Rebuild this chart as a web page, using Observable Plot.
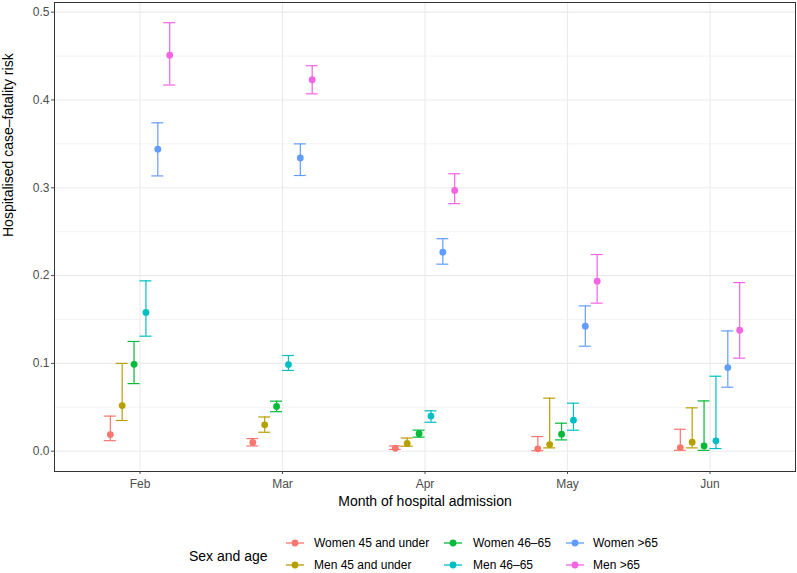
<!DOCTYPE html>
<html><head><meta charset="utf-8">
<script src="https://cdn.jsdelivr.net/npm/d3@7"></script>
<script src="https://cdn.jsdelivr.net/npm/@observablehq/plot@0.6"></script>
<style>
body{margin:0;background:#fff;font-family:"Liberation Sans",Arial,sans-serif;}
#wrap{position:relative;width:797px;height:573px;overflow:hidden;}
#chart{position:absolute;left:0;top:0;}
#legend{position:absolute;left:0;top:520px;width:797px;height:53px;}
.lt{position:absolute;font-size:14px;color:#000;line-height:14px;}
.li{position:absolute;font-size:12px;color:#000;line-height:12px;white-space:nowrap;}
.lk{position:absolute;}
</style></head><body>
<div id="wrap"><div id="chart"></div><div id="legend"></div></div>
<script>
const months = ["Feb", "Mar", "Apr", "May", "Jun"];
const groups = ["Women 45 and under", "Men 45 and under", "Women 46–65", "Men 46–65", "Women >65", "Men >65"];
const colors = ["#F8766D", "#B79F00", "#00BA38", "#00BFC4", "#619CFF", "#F564E3"];
const yTicks = [0, 0.1, 0.2, 0.3, 0.4, 0.5];
const yMinor = [0.05, 0.15, 0.25, 0.35, 0.45];

const estWomen45 = [0.019, 0.010, 0.0034, 0.0027, 0.0042];
const loWomen45  = [0.012, 0.006, 0.002, 0.0006, 0.001];
const hiWomen45  = [0.040, 0.0144, 0.006, 0.0167, 0.025];

const estMen45 = [0.052, 0.030, 0.0088, 0.0076, 0.0103];
const loMen45  = [0.035, 0.0216, 0.0057, 0.0038, 0.0038];
const hiMen45  = [0.100, 0.039, 0.015, 0.0604, 0.0494];

const estWomen4665 = [0.099, 0.051, 0.020, 0.0194, 0.006];
const loWomen4665  = [0.077, 0.045, 0.016, 0.0129, 0.001];
const hiWomen4665  = [0.125, 0.057, 0.024, 0.0319, 0.0573];

const estMen4665 = [0.158, 0.0987, 0.040, 0.0353, 0.0118];
const loMen4665  = [0.131, 0.092, 0.033, 0.0239, 0.003];
const hiMen4665  = [0.194, 0.109, 0.046, 0.0547, 0.0854];

const estWomen65 = [0.344, 0.334, 0.2266, 0.1424, 0.0953];
const loWomen65  = [0.3135, 0.314, 0.213, 0.1196, 0.0729];
const hiWomen65  = [0.374, 0.350, 0.242, 0.1655, 0.137];

const estMen65 = [0.451, 0.423, 0.297, 0.1936, 0.1378];
const loMen65  = [0.417, 0.407, 0.282, 0.1686, 0.106];
const hiMen65  = [0.488, 0.439, 0.316, 0.224, 0.192];

const series = [
  [estWomen45, loWomen45, hiWomen45],
  [estMen45, loMen45, hiMen45],
  [estWomen4665, loWomen4665, hiWomen4665],
  [estMen4665, loMen4665, hiMen4665],
  [estWomen65, loWomen65, hiWomen65],
  [estMen65, loMen65, hiMen65]
];

const dodge = 0.5 / groups.length;
const capHalf = 0.042;
const rows = [];
series.forEach(([est, lo, hi], g) => {
  months.forEach((m, i) => {
    rows.push({group: groups[g], month: m, x: i + (g - (groups.length - 1) / 2) * dodge, est: est[i], lo: lo[i], hi: hi[i]});
  });
});

const chart = Plot.plot({
  width: 797,
  height: 520,
  marginTop: 2,
  marginLeft: 54,
  marginRight: 2,
  marginBottom: 49,
  style: {fontFamily: "'Liberation Sans', Arial, sans-serif", background: "white"},
  x: {type: "linear", domain: [-0.6, 4.6]},
  y: {domain: [-0.0231, 0.511]},
  color: {domain: groups, range: colors},
  marks: [
    Plot.ruleY(yMinor, {stroke: "#ebebeb", strokeWidth: 0.6}),
    Plot.ruleY(yTicks, {stroke: "#ebebeb", strokeWidth: 1.1}),
    Plot.ruleX(months.map((m, i) => i), {stroke: "#ebebeb", strokeWidth: 1.1}),
    Plot.ruleX(rows, {x: "x", y1: "lo", y2: "hi", stroke: "group", strokeWidth: 1.2}),
    Plot.ruleY(rows, {y: "lo", x1: d => d.x - capHalf, x2: d => d.x + capHalf, stroke: "group", strokeWidth: 1.2}),
    Plot.ruleY(rows, {y: "hi", x1: d => d.x - capHalf, x2: d => d.x + capHalf, stroke: "group", strokeWidth: 1.2}),
    Plot.dot(rows, {x: "x", y: "est", fill: "group", r: 3.4}),
    Plot.frame({stroke: "#333333", strokeWidth: 1}),
    Plot.axisY(yTicks, {tickSize: 3, tickPadding: 2, fontSize: 12, color: "#4d4d4d", label: null, tickFormat: d3.format(".1f")}),
    Plot.axisX(months.map((m, i) => i), {tickSize: 3, tickPadding: 5, fontSize: 12, color: "#4d4d4d", label: null, tickFormat: i => months[i]}),
    Plot.text(["Hospitalised case–fatality risk"], {frameAnchor: "left", dx: -46, rotate: -90, fontSize: 14, fill: "black"}),
    Plot.text(["Month of hospital admission"], {frameAnchor: "bottom", dy: 34, fontSize: 14, fill: "black"})
  ]
});
document.getElementById("chart").appendChild(chart);

// legend
const legend = document.getElementById("legend");
const title = document.createElement("div");
title.className = "lt";
title.textContent = "Sex and age";
title.style.left = "189px";
title.style.top = (36 - 7) + "px";
legend.appendChild(title);
const colKeyX = [285, 443, 565];
const colLabelX = [314, 473, 593];
const rowY = [23, 45];
groups.forEach((g, k) => {
  const col = Math.floor(k / 2), row = k % 2;
  const key = document.createElementNS("http://www.w3.org/2000/svg", "svg");
  key.setAttribute("width", 20); key.setAttribute("height", 12);
  key.setAttribute("class", "lk");
  key.style.left = colKeyX[col] + "px";
  key.style.top = (rowY[row] - 6) + "px";
  key.innerHTML = `<line x1="1" x2="19" y1="6" y2="6" stroke="${colors[k]}" stroke-width="1.3"/><circle cx="10" cy="6" r="3.4" fill="${colors[k]}"/>`;
  legend.appendChild(key);
  const lab = document.createElement("div");
  lab.className = "li";
  lab.textContent = g;
  lab.style.left = colLabelX[col] + "px";
  lab.style.top = (rowY[row] - 6) + "px";
  legend.appendChild(lab);
});
</script>
</body></html>
